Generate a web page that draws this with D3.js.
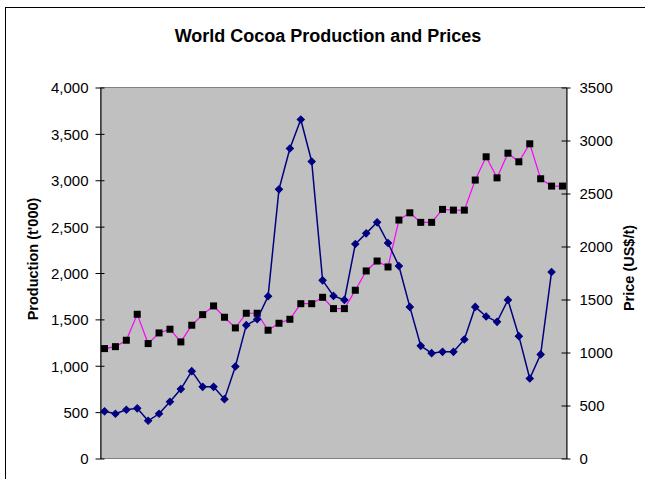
<!DOCTYPE html>
<html>
<head>
<meta charset="utf-8">
<script src="https://cdn.jsdelivr.net/npm/d3@7"></script>
<style>
  html, body { margin: 0; padding: 0; background: #fff; }
  svg { display: block; }
  text { font-family: Arial, "Liberation Sans", sans-serif; fill: #000; }
</style>
</head>
<body>
<svg id="chart" width="645" height="479"></svg>
<script>
// Crop years (one entry per season)
const years = [1960, 1961, 1962, 1963, 1964, 1965, 1966, 1967, 1968, 1969,
               1970, 1971, 1972, 1973, 1974, 1975, 1976, 1977, 1978, 1979,
               1980, 1981, 1982, 1983, 1984, 1985, 1986, 1987, 1988, 1989,
               1990, 1991, 1992, 1993, 1994, 1995, 1996, 1997, 1998, 1999,
               2000, 2001, 2002];

// World production, thousand tonnes
const production = [1185, 1206, 1275, 1555, 1239, 1354, 1394, 1257, 1437, 1551,
                    1645, 1523, 1408, 1566, 1566, 1383, 1458, 1501, 1669, 1669,
                    1738, 1616, 1616, 1814, 2022, 2129, 2065, 2571, 2649, 2546,
                    2546, 2686, 2678, 2678, 3002, 3253, 3026, 3292, 3199, 3393,
                    3016, 2937, 2937];

// Average price, US$ per tonne
const price = [445, 422, 460, 473, 356, 422, 535, 655, 824, 676,
               676, 560, 868, 1258, 1314, 1531, 2539, 2925, 3198, 2802,
               1681, 1534, 1496, 2023, 2124, 2228, 2033, 1816, 1430, 1063,
               994, 1006, 1006, 1123, 1430, 1340, 1289, 1496, 1154, 755,
               982, 1760];

const leftTicks = [0, 500, 1000, 1500, 2000, 2500, 3000, 3500, 4000];
const rightTicks = [0, 500, 1000, 1500, 2000, 2500, 3000, 3500];

const svg = d3.select("#chart");

// outer chart border (runs off the right and bottom edges)
svg.append("rect")
  .attr("x", 5.5).attr("y", 7.5)
  .attr("width", 700).attr("height", 600)
  .attr("fill", "#fff").attr("stroke", "#000").attr("stroke-width", 1);

const plot = { left: 100.5, right: 566.5, top: 87.5, bottom: 458.5 };

const x = d3.scaleLinear()
  .domain([-0.37, years.length - 1 + 0.37])
  .range([plot.left, plot.right]);
const yL = d3.scaleLinear().domain([0, 4000]).range([plot.bottom, plot.top]);
const yR = d3.scaleLinear().domain([0, 3500]).range([plot.bottom, plot.top]);

// plot area
svg.append("rect")
  .attr("x", plot.left).attr("y", plot.top)
  .attr("width", plot.right - plot.left).attr("height", plot.bottom - plot.top)
  .attr("fill", "#c0c0c0").attr("stroke", "#808080").attr("stroke-width", 1);

// title
svg.append("text")
  .attr("x", 328).attr("y", 42)
  .attr("text-anchor", "middle")
  .style("font-size", "18px").style("font-weight", "bold")
  .text("World Cocoa Production and Prices");

// left axis: production
const axL = svg.append("g")
  .attr("transform", `translate(${plot.left},0)`)
  .call(d3.axisLeft(yL).tickValues(leftTicks).tickFormat(d3.format(",")).tickSize(0).tickPadding(12));
axL.select(".domain").attr("stroke", "#000");
axL.selectAll(".tick").append("line")
  .attr("x1", -5).attr("x2", 4).attr("stroke", "#000");
axL.selectAll(".tick text").style("font-size", "15px").attr("dy", "0.36em")
  .style("font-family", "Arial, 'Liberation Sans', sans-serif");

// right axis: price
const axR = svg.append("g")
  .attr("transform", `translate(${plot.right},0)`)
  .call(d3.axisRight(yR).tickValues(rightTicks).tickFormat(d3.format("d")).tickSize(0).tickPadding(13));
axR.select(".domain").attr("stroke", "#000");
axR.selectAll(".tick").append("line")
  .attr("x1", -5).attr("x2", 4).attr("stroke", "#000");
axR.selectAll(".tick text").style("font-size", "15px").attr("dy", "0.36em")
  .style("font-family", "Arial, 'Liberation Sans', sans-serif");

// axis titles
svg.append("text")
  .attr("transform", "translate(37.5,259) rotate(-90)")
  .attr("text-anchor", "middle")
  .style("font-size", "14.5px").style("font-weight", "bold")
  .text("Production (t'000)");
svg.append("text")
  .attr("transform", "translate(634,268) rotate(-90)")
  .attr("text-anchor", "middle")
  .style("font-size", "14.5px").style("font-weight", "bold")
  .text("Price (US$/t)");

// production series: magenta line, black squares
const prodLine = d3.line().x((d, i) => x(i)).y(d => yL(d));
svg.append("path")
  .datum(production)
  .attr("d", prodLine)
  .attr("fill", "none").attr("stroke", "#ff00ff").attr("stroke-width", 1.2);
svg.append("g").selectAll("rect")
  .data(production)
  .join("rect")
  .attr("x", (d, i) => x(i) - 3.5)
  .attr("y", d => yL(d) - 3.5)
  .attr("width", 7).attr("height", 7)
  .attr("fill", "#000");

// price series: navy line, navy diamonds (squares turned 45°)
const priceLine = d3.line().x((d, i) => x(i)).y(d => yR(d));
svg.append("path")
  .datum(price)
  .attr("d", priceLine)
  .attr("fill", "none").attr("stroke", "#000080").attr("stroke-width", 1.5);
svg.append("g").selectAll("path")
  .data(price)
  .join("path")
  .attr("d", d3.symbol().type(d3.symbolSquare).size(26))
  .attr("transform", (d, i) => `translate(${x(i)},${yR(d)}) rotate(45)`)
  .attr("fill", "#000080").attr("stroke", "#000080").attr("stroke-width", 1);
</script>
</body>
</html>
